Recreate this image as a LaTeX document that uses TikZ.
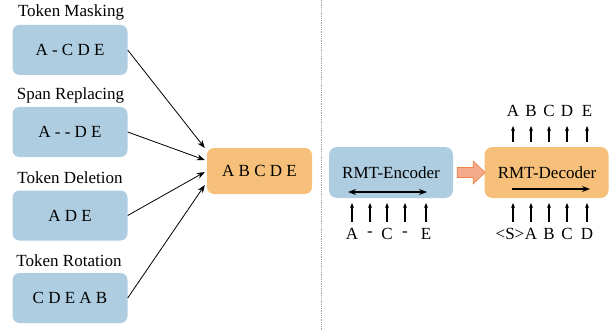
\documentclass[tikz,border=0pt]{standalone}
\usepackage{fontspec}
\setmainfont{Liberation Serif}
\usetikzlibrary{arrows.meta, calc}
\definecolor{noiseblue}{HTML}{AECDE1}
\definecolor{cleanorange}{HTML}{F6C07B}
\definecolor{passfill}{HTML}{F5AA8C}
\definecolor{passline}{HTML}{EC8348}

\tikzset{
  noisebox/.style={fill=noiseblue, rounded corners=7pt, minimum width=115pt, minimum height=50pt, font=\fontsize{17}{17}\selectfont},
  cleanbox/.style={fill=cleanorange, rounded corners=7pt, minimum width=105pt, minimum height=46pt, font=\fontsize{17}{17}\selectfont},
  rmtbox/.style={rounded corners=8pt, minimum width=124pt, minimum height=51pt, font=\fontsize{17}{17}\selectfont},
  caption/.style={font=\fontsize{17}{17}\selectfont, inner sep=0pt},
  tok/.style={font=\fontsize{17}{17}\selectfont, inner sep=0pt},
  feed/.style={-{Stealth[length=5pt,width=4pt]}, line width=1.1pt}
}

\begin{document}
\begin{tikzpicture}[x=1pt, y=-1pt]
  \useasboundingbox (0,0) rectangle (609,331);

  % noising schemes
  \node[noisebox] (mask) at (70,50) {A - C D E};
  \node[noisebox] (span) at (70,132) {A - - D E};
  \node[noisebox] (del)  at (70,215.5) {A D E};
  \node[noisebox] (rot)  at (70,298) {C D E A B};

  \node[caption] (maskcap) at (71,12) {Token Masking};
  \node[caption] (spancap) at (70.5,95) {Span Replacing};
  \node[caption] (delcap)  at (70,178) {Token Deletion};
  \node[caption] (rotcap)  at (69,261) {Token Rotation};

  \node[cleanbox] (orig) at (259.5,171) {A B C D E};

  \draw[-{Stealth[length=8pt,width=6pt]}, line width=0.8pt] (mask.east) -- ([xshift=-2pt,yshift=23pt]orig.west);
  \draw[-{Stealth[length=8pt,width=6pt]}, line width=0.8pt] (span.east) -- ([xshift=-2pt,yshift=11pt]orig.west);
  \draw[-{Stealth[length=8pt,width=6pt]}, line width=0.8pt] (del.east)  -- ([xshift=-2pt,yshift=-1pt]orig.west);
  \draw[-{Stealth[length=8pt,width=6pt]}, line width=0.8pt] (rot.east)  -- ([xshift=-2pt,yshift=-14pt]orig.west);

  % divider
  \draw[gray!70, densely dotted, line width=0.8pt] (321,0) -- (321,331);

  % encoder / decoder
  \node[rmtbox, fill=noiseblue] (enc) at (391,172.5) {};
  \node[tok] (enclbl) at (391,173) {RMT-Encoder};
  \node[rmtbox, fill=cleanorange] (dec) at (546.5,172.5) {};
  \node[tok] (declbl) at (547,173) {RMT-Decoder};

  \coordinate (encl) at (348,192);
  \coordinate (encr) at (427,192);
  \draw[{Stealth[length=8pt,width=6pt]}-{Stealth[length=8pt,width=6pt]}, line width=1.2pt] (encl) -- (encr);
  \coordinate (decl) at (512,189);
  \coordinate (decr) at (590,189);
  \draw[-{Stealth[length=8pt,width=6pt]}, line width=1.2pt] (decl) -- (decr);

  % hand-over arrow
  \coordinate (pass) at ([xshift=4pt]enc.east);
  \fill[passfill, draw=passline, line width=0.6pt]
    ($(pass)+(0,-5)$) -- ++(16,0) -- ++(0,-6.5) -- ++(12,11.5) -- ++(-12,11.5) -- ++(0,-6.5) -- ++(-16,0) -- cycle;

  % encoder inputs
  \foreach \x/\t [count=\i] in {352/A, 370/-, 387/C, 405/-, 426/E} {
    \node[tok] (ein\i) at (\x,234) {\t};
    \coordinate (eup\i) at (\x,203);
    \draw[feed] (\x,222) -- (eup\i);
  }

  % decoder inputs
  \node[tok] (din1) at (510,234) {<S>};
  \foreach \x/\t [count=\i from 2] in {531/A, 549/B, 567/C, 587/D} {
    \node[tok] (din\i) at (\x,234) {\t};
  }
  \foreach \x [count=\i] in {513,531,549,567,587} {
    \coordinate (dup\i) at (\x,203);
    \draw[feed] (\x,222) -- (dup\i);
  }

  % decoder outputs
  \foreach \x/\t [count=\i] in {513/A, 531/B, 549/C, 567/D, 587/E} {
    \node[tok] (dout\i) at (\x,111) {\t};
    \coordinate (oup\i) at (\x,126);
    \draw[feed] (\x,142) -- (oup\i);
  }
\end{tikzpicture}
\end{document}
